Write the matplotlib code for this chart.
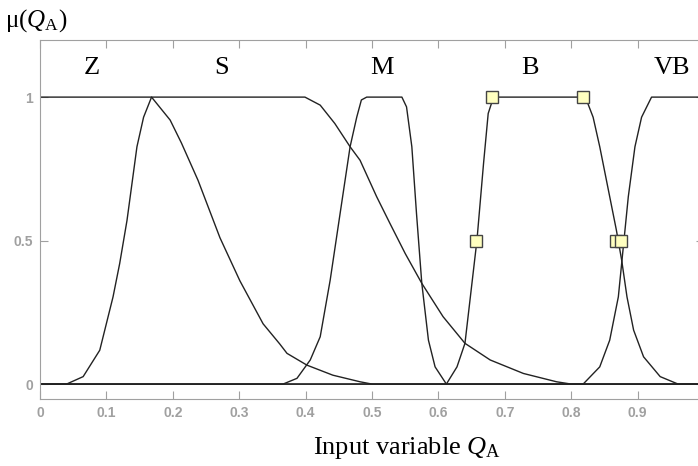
import numpy as np
import matplotlib
matplotlib.use('Agg')
import matplotlib.pyplot as plt

# membership functions (x, mu)
z_x = [0, 0.168, 0.196, 0.213, 0.238, 0.271, 0.301, 0.336, 0.361, 0.372, 0.402, 0.441, 0.482, 0.50, 1.0]
z_y = [1, 1, 0.92, 0.84, 0.71, 0.51, 0.36, 0.21, 0.14, 0.107, 0.066, 0.031, 0.008, 0, 0]

s_x = [0, 0.04, 0.065, 0.09, 0.11, 0.12, 0.131, 0.146, 0.156, 0.168, 0.399, 0.422, 0.444, 0.467,
       0.482, 0.507, 0.527, 0.55, 0.575, 0.607, 0.64, 0.678, 0.728, 0.778, 0.80, 1.0]
s_y = [0, 0, 0.026, 0.118, 0.304, 0.42, 0.57, 0.827, 0.93, 1, 1, 0.972, 0.908, 0.827,
       0.78, 0.653, 0.56, 0.455, 0.351, 0.235, 0.142, 0.084, 0.037, 0.008, 0, 0]

m_x = [0, 0.366, 0.387, 0.407, 0.422, 0.437, 0.452, 0.467, 0.477, 0.484, 0.492,
       0.545, 0.552, 0.560, 0.567, 0.575, 0.585, 0.595, 0.612, 1.0]
m_y = [0, 0, 0.02, 0.084, 0.165, 0.362, 0.595, 0.827, 0.93, 0.99, 1,
       1, 0.966, 0.827, 0.595, 0.351, 0.153, 0.06, 0, 0]

b_x = [0, 0.612, 0.628, 0.640, 0.658, 0.668, 0.675, 0.683, 0.818, 0.823, 0.833, 0.843,
       0.858, 0.868, 0.876, 0.884, 0.894, 0.909, 0.934, 0.961, 1.0]
b_y = [0, 0, 0.06, 0.142, 0.50, 0.769, 0.943, 1, 1, 0.99, 0.93, 0.827,
       0.653, 0.537, 0.432, 0.304, 0.188, 0.095, 0.026, 0, 0]

vb_x = [0, 0.818, 0.843, 0.858, 0.871, 0.878, 0.886, 0.896, 0.906, 0.921, 1.0]
vb_y = [0, 0, 0.06, 0.153, 0.304, 0.467, 0.653, 0.827, 0.93, 1, 1]

# highlighted points
pts_x = [0.680, 0.818, 0.657, 0.868, 0.875]
pts_y = [1, 1, 0.5, 0.5, 0.5]

labels = ['Z', 'S', 'M', 'B', 'VB']
label_x = [0.078, 0.274, 0.515, 0.738, 0.952]

plt.rcParams['mathtext.fontset'] = 'custom'
plt.rcParams['mathtext.rm'] = 'Liberation Serif'
plt.rcParams['mathtext.it'] = 'Liberation Serif:italic'

fig = plt.figure(figsize=(6.98, 4.66), dpi=100)
ax = fig.add_axes([40 / 698, 67 / 466, 664 / 698, 359 / 466])

for xs, ys in [(z_x, z_y), (s_x, s_y), (m_x, m_y), (b_x, b_y), (vb_x, vb_y)]:
    ax.plot(xs, ys, color='#222222', lw=1.0)

ax.plot(pts_x, pts_y, 's', ms=8, mfc='#ffffc0', mec='#444444', mew=1.0, zorder=5)

for lab, lx in zip(labels, label_x):
    ax.text(lx, 1.10, lab, ha='center', va='center', fontsize=19, family='Liberation Serif')

ax.set_xlim(0, 1)
ax.set_ylim(-0.052, 1.199)
ax.set_xticks(np.arange(0, 1.01, 0.1))
ax.set_xticklabels(['0', '0.1', '0.2', '0.3', '0.4', '0.5', '0.6', '0.7', '0.8', '0.9', '1'])
ax.set_yticks([0, 0.5, 1])
ax.set_yticklabels(['0', '0.5', '1'])

gray = '#a0a0a0'
for sp in ax.spines.values():
    sp.set_color(gray)
ax.tick_params(direction='in', length=6, color=gray, labelcolor=gray,
               top=True, right=True, labelsize=10, pad=5)
for t in ax.get_xticklabels() + ax.get_yticklabels():
    t.set_fontweight('bold')
    t.set_family('Liberation Sans')

fig.text(5 / 698, 1 - 21 / 466, r'μ($Q_{\mathrm{A}}$)', ha='left', va='center',
         fontsize=18, family='Liberation Serif')
fig.text(407 / 698, 1 - 448 / 466, r'Input variable $Q_{\mathrm{A}}$', ha='center', va='center',
         fontsize=19, family='Liberation Serif')

fig.savefig('out.png', dpi=100)
